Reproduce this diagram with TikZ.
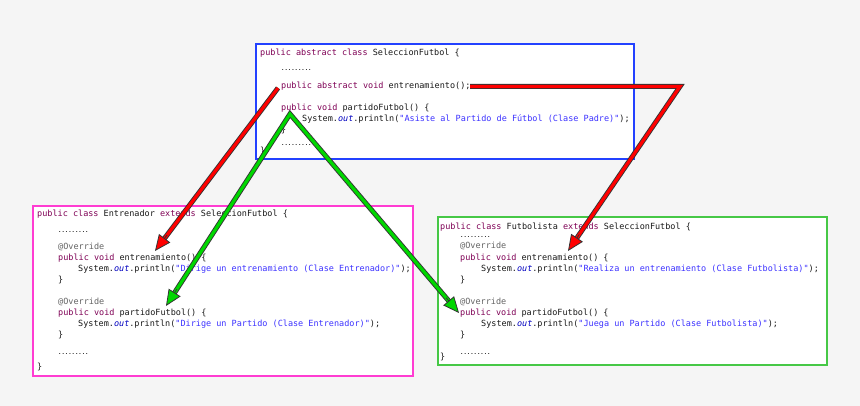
\documentclass[tikz,border=0pt]{standalone}
\usepackage{fontspec}
\newfontfamily\codefont{DejaVu Sans Mono}
\usetikzlibrary{arrows.meta,calc}
\definecolor{bgc}{RGB}{245,245,245}
\definecolor{bluebox}{RGB}{35,65,255}
\definecolor{magbox}{RGB}{255,60,210}
\definecolor{greenbox}{RGB}{70,200,70}
\definecolor{kwc}{RGB}{127,0,85}
\definecolor{strc}{RGB}{60,50,255}
\definecolor{outc}{RGB}{0,0,192}
\definecolor{annc}{RGB}{100,100,100}
\definecolor{arrred}{RGB}{255,0,0}
\definecolor{arrgreen}{RGB}{0,215,0}
\newcommand\kwd[1]{\textcolor{kwc}{#1}}
\newcommand\strg[1]{\textcolor{strc}{#1}}
\newcommand\annot[1]{\textcolor{annc}{#1}}
\newcommand\outf{\textcolor{outc}{\itshape out}}
\tikzset{
  code/.style={anchor=base west, inner sep=0pt, font=\codefont\fontsize{8.5}{10}\selectfont, text=black!90},
  dotline/.style={anchor=base west, inner sep=0pt, font=\codefont\bfseries\fontsize{5.6}{6}\selectfont, text=black!85},
  box/.style={draw=#1, fill=white, inner sep=0pt},
  arrowedge/.style={line width=5pt, draw=black!80, line join=miter},
  arrowfill/.style={line width=3.2pt, draw=#1, line join=miter},
  arrowtip/.style={draw=black!80, line width=0.8pt, -{Triangle[length=16pt,width=14pt,fill=#1]}}
}
\newcommand\codeln[4]{\node[code] (#1) at (#2,{403.2-#3}) {#4};}
\newcommand\dotsln[3]{\node[dotline] (#1) at (#2,{405.5-#3}) {.........};}
\begin{document}
\begin{tikzpicture}[x=1pt,y=1pt]
\fill[bgc] (0,0) rectangle (860,406);
\useasboundingbox (0,0) rectangle (860,406);

% boxes
\node[box=bluebox, line width=2pt, minimum width=378pt, minimum height=115pt] (parent) at (445,304.5) {};
\node[box=magbox, line width=1.5pt, minimum width=380pt, minimum height=170pt] (coach) at (223,115) {};
\node[box=greenbox, line width=1.5pt, minimum width=389pt, minimum height=148pt] (player) at (632.5,115) {};

% parent class
\codeln{p1}{260}{52.7}{\kwd{public abstract class} SeleccionFutbol \{}
\dotsln{p2}{281}{70}
\codeln{p3}{281}{85.7}{\kwd{public abstract void} entrenamiento();}
\codeln{p4}{281}{107.5}{\kwd{public void} partidoFutbol() \{}
\codeln{p5}{302}{119}{System.\outf.println(\strg{"Asiste al Partido de Fútbol (Clase Padre)"});}
\codeln{p6}{281}{129.5}{\}}
\dotsln{p7}{281}{145}
\codeln{p8}{260}{151}{\}}

% Entrenador
\codeln{e1}{37}{214}{\kwd{public class} Entrenador \kwd{extends} SeleccionFutbol \{}
\dotsln{e2}{58}{232}
\codeln{e3}{58}{247}{\annot{@Override}}
\codeln{e4}{58}{258}{\kwd{public void} entrenamiento() \{}
\codeln{e5}{78}{269}{System.\outf.println(\strg{"Dirige un entrenamiento (Clase Entrenador)"});}
\codeln{e6}{58}{280}{\}}
\codeln{e7}{58}{302}{\annot{@Override}}
\codeln{e8}{58}{313}{\kwd{public void} partidoFutbol() \{}
\codeln{e9}{78}{324}{System.\outf.println(\strg{"Dirige un Partido (Clase Entrenador)"});}
\codeln{e10}{58}{335}{\}}
\dotsln{e11}{58}{354}
\codeln{e12}{37}{367}{\}}

% Futbolista
\codeln{f1}{440}{227}{\kwd{public class} Futbolista \kwd{extends} SeleccionFutbol \{}
\dotsln{f2}{460}{237}
\codeln{f3}{460}{246}{\annot{@Override}}
\codeln{f4}{460}{258}{\kwd{public void} entrenamiento() \{}
\codeln{f5}{481}{269}{System.\outf.println(\strg{"Realiza un entrenamiento (Clase Futbolista)"});}
\codeln{f6}{460}{280}{\}}
\codeln{f7}{460}{302}{\annot{@Override}}
\codeln{f8}{460}{313}{\kwd{public void} partidoFutbol() \{}
\codeln{f9}{481}{324}{System.\outf.println(\strg{"Juega un Partido (Clase Futbolista)"});}
\codeln{f10}{460}{335}{\}}
\dotsln{f11}{460}{354}
\codeln{f12}{440}{357}{\}}

% arrow coordinates
\coordinate (r1s) at (278,318);
\coordinate (r1e) at (155,155);
\coordinate (r2s) at (470,319.5);
\coordinate (r2c) at (680,319.5);
\coordinate (r2e) at (568,155);
\coordinate (gap) at (290,292);
\coordinate (g1e) at (166,100);
\coordinate (g2e) at (459,93);

% red arrow 1
\draw[arrowedge, shorten >=14pt] (r1s) -- (r1e);
\draw[arrowfill=arrred, shorten >=14pt] (r1s) -- (r1e);
\path[arrowtip=arrred] ($(r1e)!20pt!(r1s)$) -- (r1e);
% red arrow 2
\draw[arrowedge, shorten >=14pt] (r2s) -- (r2c) -- (r2e);
\draw[arrowfill=arrred, shorten >=14pt] (r2s) -- (r2c) -- (r2e);
\path[arrowtip=arrred] ($(r2e)!20pt!(r2c)$) -- (r2e);
% green arrows
\draw[arrowedge, shorten >=14pt, shorten <=14pt] (g1e) -- (gap) -- (g2e);
\draw[arrowfill=arrgreen, shorten >=14pt, shorten <=14pt] (g1e) -- (gap) -- (g2e);
\path[arrowtip=arrgreen] ($(g1e)!20pt!(gap)$) -- (g1e);
\path[arrowtip=arrgreen] ($(g2e)!20pt!(gap)$) -- (g2e);
\end{tikzpicture}
\end{document}
